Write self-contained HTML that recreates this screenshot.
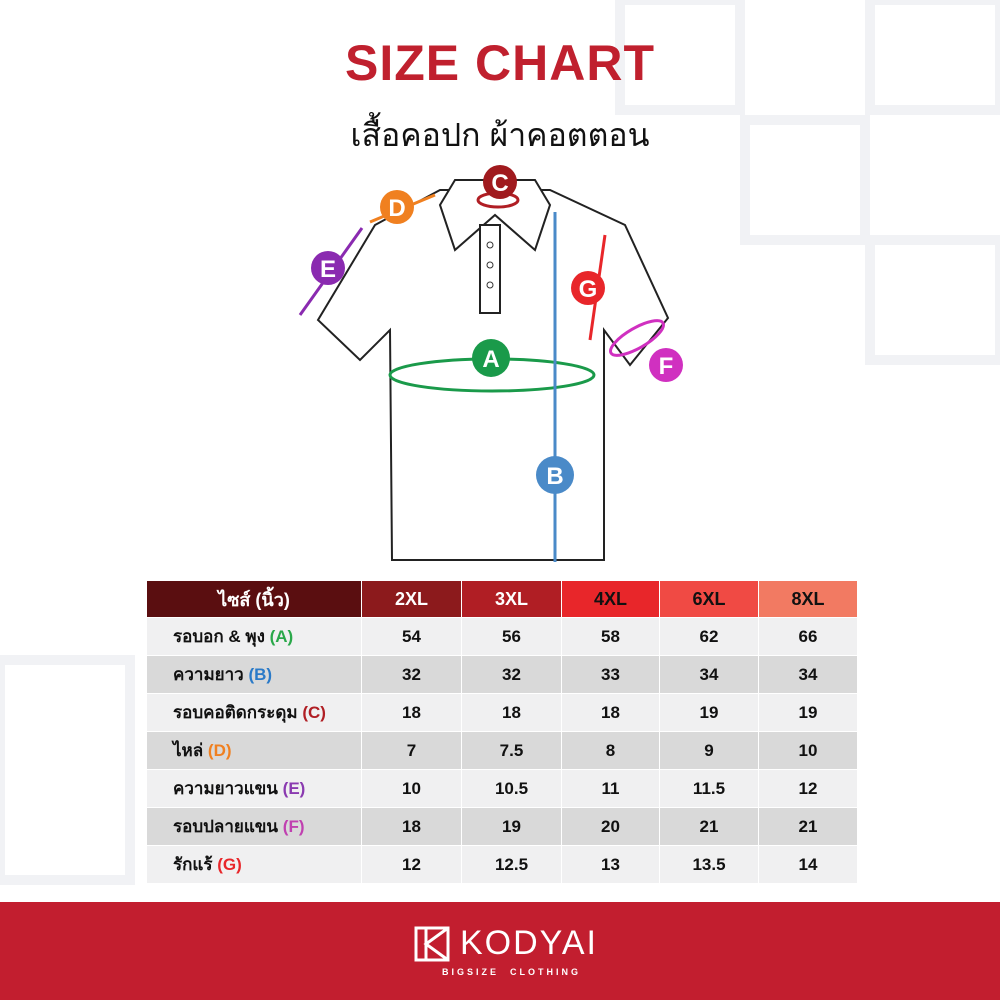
<!DOCTYPE html>
<html><head><meta charset="utf-8"><style>
body{margin:0;width:1000px;height:1000px;background:#fff;position:relative;overflow:hidden;font-family:"Liberation Sans","DejaVu Sans",sans-serif}
.t1{position:absolute;top:34px;left:0;width:1000px;text-align:center;color:#c0202e;font-size:50px;font-weight:bold;letter-spacing:1px}
.t2{position:absolute;top:110px;left:0;width:1000px;text-align:center;color:#111;font-size:32px}
table{position:absolute;left:146px;top:580px;border-collapse:collapse;font-weight:bold;font-size:17px}
td{height:37px;border:1px solid #fff;text-align:center;padding:0;color:#111}
td.l{text-align:left;padding-left:26px;width:188px}
tr.h td{color:#fff;height:36px;font-size:18px}
tr.a td{background:#f0f0f1}tr.b td{background:#d9d9d9}
.foot{position:absolute;left:0;top:902px;width:1000px;height:98px;background:#c21e2f}
</style></head><body>
<svg width="1000" height="1000" style="position:absolute;left:0;top:0">
<g fill="none" stroke="#f1f2f5" stroke-width="10">
<rect x="620" y="0" width="120" height="110"/><rect x="745" y="120" width="120" height="120"/><rect x="870" y="0" width="130" height="110"/><rect x="870" y="240" width="130" height="120"/><rect x="0" y="660" width="130" height="220"/>
</g>
<g fill="#fff" stroke="#222" stroke-width="2">
<path d="M440 190 L375 225 L318 320 L360 360 L390 330 L392 560 L604 560 L604 330 L630 365 L668 318 L625 225 L550 190 Z"/>
<path d="M455 180 L440 205 L455 250 L495 215 L535 250 L550 205 L535 180 Z"/>
<rect x="480" y="225" width="20" height="88"/>
</g>
<g fill="#fff" stroke="#333"><circle cx="490" cy="245" r="3"/><circle cx="490" cy="265" r="3"/><circle cx="490" cy="285" r="3"/></g>
<g fill="none" stroke-width="3">
<ellipse cx="492" cy="375" rx="102" ry="16" stroke="#1a9a4a"/>
<line x1="555" y1="212" x2="555" y2="562" stroke="#4a8ac8"/>
<ellipse cx="498" cy="200" rx="20" ry="7" stroke="#b01e24"/>
<line x1="370" y1="222" x2="435" y2="195" stroke="#f08020"/>
<line x1="300" y1="315" x2="362" y2="228" stroke="#8a2ab0"/>
<line x1="590" y1="340" x2="605" y2="235" stroke="#e8262a"/>
<ellipse cx="637" cy="338" rx="30" ry="10" transform="rotate(-30 637 338)" stroke="#d030c0"/>
</g>
<g font-family="Liberation Sans" font-size="24" font-weight="bold" fill="#fff" text-anchor="middle">
<circle cx="491" cy="358" r="19" fill="#1a9a4a"/><text x="491" y="367">A</text>
<circle cx="555" cy="475" r="19" fill="#4a8ac8"/><text x="555" y="484">B</text>
<circle cx="500" cy="182" r="17" fill="#a01a1e"/><text x="500" y="191">C</text>
<circle cx="397" cy="207" r="17" fill="#f08020"/><text x="397" y="216">D</text>
<circle cx="328" cy="268" r="17" fill="#8a2ab0"/><text x="328" y="277">E</text>
<circle cx="666" cy="365" r="17" fill="#d030c0"/><text x="666" y="374">F</text>
<circle cx="588" cy="288" r="17" fill="#e8262a"/><text x="588" y="297">G</text>
</g>
</svg>
<div class="t1">SIZE CHART</div>
<div class="t2">เสื้อคอปก ผ้าคอตตอน</div>
<table>
<tr class="h"><td class="l" style="background:#5a0e10;text-align:center;padding:0;width:214px">ไซส์ (นิ้ว)</td><td style="background:#8c1a1c;width:99px">2XL</td><td style="background:#b01e24;width:99px">3XL</td><td style="background:#e8262a;width:97px;color:#111">4XL</td><td style="background:#f04a44;width:98px;color:#111">6XL</td><td style="background:#f27a62;width:98px;color:#111">8XL</td></tr>
<tr class="a"><td class="l">รอบอก &amp; พุง <span style="color:#2aa84a">(A)</span></td><td>54</td><td>56</td><td>58</td><td>62</td><td>66</td></tr>
<tr class="b"><td class="l">ความยาว <span style="color:#2a7ac8">(B)</span></td><td>32</td><td>32</td><td>33</td><td>34</td><td>34</td></tr>
<tr class="a"><td class="l">รอบคอติดกระดุม <span style="color:#b01e24">(C)</span></td><td>18</td><td>18</td><td>18</td><td>19</td><td>19</td></tr>
<tr class="b"><td class="l">ไหล่ <span style="color:#f08020">(D)</span></td><td>7</td><td>7.5</td><td>8</td><td>9</td><td>10</td></tr>
<tr class="a"><td class="l">ความยาวแขน <span style="color:#8a3ab0">(E)</span></td><td>10</td><td>10.5</td><td>11</td><td>11.5</td><td>12</td></tr>
<tr class="b"><td class="l">รอบปลายแขน <span style="color:#c040b0">(F)</span></td><td>18</td><td>19</td><td>20</td><td>21</td><td>21</td></tr>
<tr class="a"><td class="l">รักแร้ <span style="color:#e8262a">(G)</span></td><td>12</td><td>12.5</td><td>13</td><td>13.5</td><td>14</td></tr>
</table>
<div class="foot">
<svg width="36" height="36" style="position:absolute;left:414px;top:24px"><g fill="none" stroke="#fff" stroke-width="3"><rect x="2" y="2" width="32" height="32"/><line x1="12" y1="2" x2="12" y2="34"/><path d="M34 2 L12 18 L34 34"/></g></svg>
<div style="position:absolute;left:460px;top:22px;color:#fff;font-size:34px;letter-spacing:2px">KODYAI</div>
<div style="position:absolute;left:442px;top:65px;color:#fff;font-size:9px;letter-spacing:3px;font-weight:bold">BIGSIZE&nbsp;&nbsp;CLOTHING</div>
</div>
</body></html>
